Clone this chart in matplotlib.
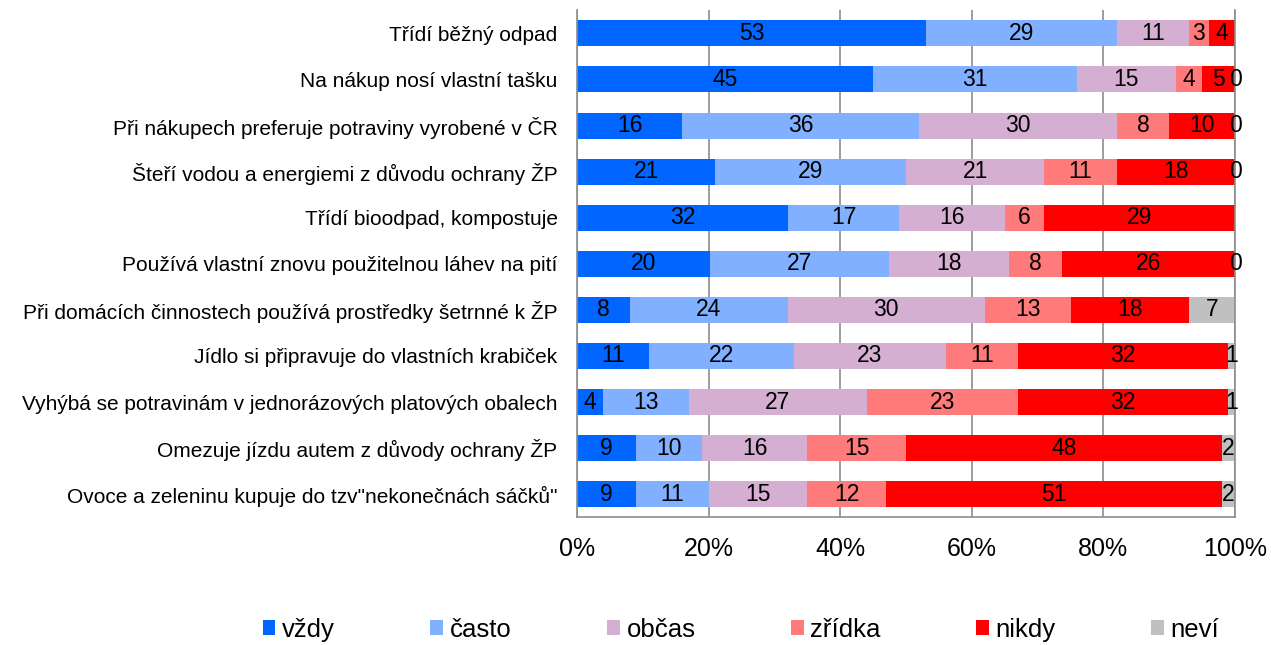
import matplotlib
matplotlib.use("Agg")
import matplotlib.pyplot as plt
import numpy as np

plt.rcParams['font.family'] = ['Liberation Sans', 'DejaVu Sans']

categories = [
    "Třídí běžný odpad",
    "Na nákup nosí vlastní tašku",
    "Při nákupech preferuje potraviny vyrobené v ČR",
    "Šteří vodou a energiemi z důvodu ochrany ŽP",
    "Třídí bioodpad, kompostuje",
    "Používá vlastní znovu použitelnou láhev na pití",
    "Při domácích činnostech používá prostředky šetrnné k ŽP",
    "Jídlo si připravuje do vlastních krabiček",
    "Vyhýbá se potravinám v jednorázových platových obalech",
    "Omezuje jízdu autem z důvody ochrany ŽP",
    "Ovoce a zeleninu kupuje do tzv\"nekonečnách sáčků\"",
]
series_names = ["vždy", "často", "občas", "zřídka", "nikdy", "neví"]
vzdy   = [53, 45, 16, 21, 32, 20, 8, 11, 4, 9, 9]
casto  = [29, 31, 36, 29, 17, 27, 24, 22, 13, 10, 11]
obcas  = [11, 15, 30, 21, 16, 18, 30, 23, 27, 16, 15]
zridka = [3, 4, 8, 11, 6, 8, 13, 11, 23, 15, 12]
nikdy  = [4, 5, 10, 18, 29, 26, 18, 32, 32, 48, 51]
nevi   = [None, 0, 0, 0, None, 0, 7, 1, 1, 2, 2]
colors = ["#0066FF", "#80B0FF", "#D4AFD2", "#FF7A7A", "#FF0000", "#C0C0C0"]

data = [vzdy, casto, obcas, zridka, nikdy, nevi]
arr = np.array([[np.nan if v is None else v for v in s] for s in data], dtype=float)
totals = np.nansum(arr, axis=0)
pct = np.nan_to_num(arr) / totals * 100

fig = plt.figure(figsize=(12.71, 6.45), dpi=100)
ax = fig.add_axes([0.454, 0.198, 0.5177, 0.786])

y = np.arange(len(categories))
left = np.zeros(len(categories))
for i, name in enumerate(series_names):
    ax.barh(y, pct[i], left=left, height=0.565, color=colors[i], label=name, zorder=2)
    for j in range(len(categories)):
        if np.isnan(arr[i, j]):
            continue
        cx = left[j] + pct[i, j] / 2
        ax.text(cx, y[j], f"{int(arr[i, j])}", ha='center', va='center',
                fontsize=16.5, color='black', zorder=3)
    left += pct[i]

ax.set_xlim(0, 100)
ax.set_ylim(len(categories) - 0.5, -0.5)
ax.set_yticks(y)
ax.set_yticklabels(categories, fontsize=15)
ax.set_xticks([0, 20, 40, 60, 80, 100])
ax.set_xticklabels(["0%", "20%", "40%", "60%", "80%", "100%"], fontsize=18)
ax.tick_params(axis='both', length=0)
ax.tick_params(axis='x', pad=14)
ax.tick_params(axis='y', pad=14)
ax.grid(axis='x', color='#8c8c8c', linewidth=1.2, zorder=0)
ax.spines['top'].set_visible(False)
for s in ['left', 'bottom', 'right']:
    ax.spines[s].set_color('#8c8c8c')
    ax.spines[s].set_linewidth(1.2)

handles, labels = ax.get_legend_handles_labels()
fig.legend(handles, labels, loc='center', bbox_to_anchor=(0.583, 0.024), ncol=6,
           frameon=False, fontsize=18.5, handlelength=0.5, handleheight=0.5,
           handletextpad=0.27, columnspacing=3.7)

fig.savefig("out.png", dpi=100)
